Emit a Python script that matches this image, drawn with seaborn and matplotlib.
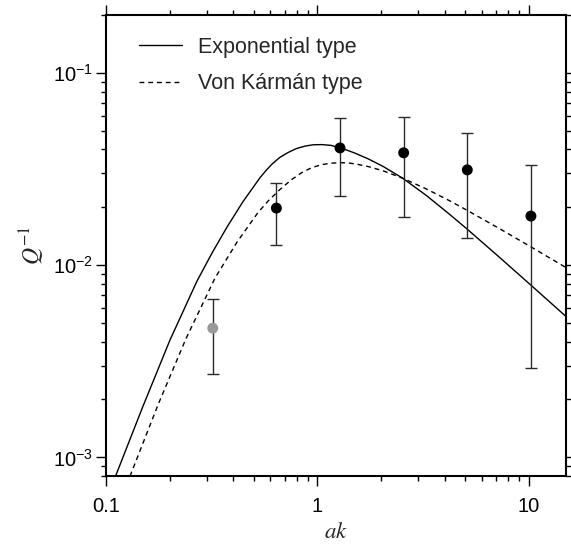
import matplotlib
matplotlib.use("Agg")
import matplotlib.pyplot as plt
import matplotlib.ticker as mticker
import seaborn as sns
import pandas as pd

# ---- data ----
exp_ak = [0.1104, 0.1489, 0.2009, 0.2692, 0.3170, 0.3733, 0.4446, 0.5346, 0.5715,
          0.6095, 0.6637, 0.7244, 0.7943, 0.8730, 0.9550, 1.0495, 1.1588, 1.2764,
          1.3804, 1.5031, 1.7378, 2.0417, 2.5351, 3.281, 4.236, 5.093, 7.244,
          10.233, 14.962]
exp_q = [0.000787, 0.001820, 0.004083, 0.008241, 0.01153, 0.01574, 0.02138, 0.02844,
         0.03105, 0.03350, 0.03631, 0.03846, 0.04036, 0.04159, 0.04227, 0.04236,
         0.04198, 0.04074, 0.03963, 0.03828, 0.03573, 0.03266, 0.02831, 0.02301,
         0.01832, 0.01545, 0.01102, 0.00787, 0.00542]

vk_ak = [0.1299, 0.1762, 0.2389, 0.3277, 0.4163, 0.5233, 0.5888, 0.6647, 0.7534,
         0.8540, 0.9462, 1.0495, 1.1588, 1.2764, 1.3804, 1.5031, 1.7378, 2.0417,
         2.5351, 3.281, 4.236, 5.093, 7.244, 10.233, 14.962]
vk_q = [0.000798, 0.001875, 0.004140, 0.008551, 0.01315, 0.01875, 0.02173, 0.02472,
        0.02780, 0.03055, 0.03221, 0.03334, 0.03388, 0.03412, 0.03404, 0.03365,
        0.03258, 0.03097, 0.02831, 0.02489, 0.02158, 0.01932, 0.01552, 0.01245,
        0.009727]

obs_ak = [0.32, 0.64, 1.28, 2.56, 5.12, 10.24]
obs_q = [0.0047, 0.0198, 0.0407, 0.0384, 0.0313, 0.0180]
obs_hi = [0.0067, 0.0267, 0.058, 0.059, 0.0484, 0.0332]
obs_lo = [0.0027, 0.0127, 0.023, 0.0178, 0.0138, 0.0029]
obs_group = ["gray", "black", "black", "black", "black", "black"]

x_ticks = [0.1, 1, 10]
x_tick_labels = ["0.1", "1", "10"]

# ---- style ----
sns.set_style("ticks")
plt.rcParams["font.family"] = ["Liberation Sans", "DejaVu Sans"]
plt.rcParams["mathtext.fontset"] = "stix"

fig = plt.figure(figsize=(5.71, 5.44), dpi=100)
ax = fig.add_axes([0.1856, 0.125, 0.8056, 0.8474])
ax.set_xscale("log")
ax.set_yscale("log")

df_exp = pd.DataFrame({"ak": exp_ak, "Q": exp_q})
df_vk = pd.DataFrame({"ak": vk_ak, "Q": vk_q})
sns.lineplot(data=df_exp, x="ak", y="Q", ax=ax, color="black", lw=1.0,
             estimator=None, sort=False, label="Exponential type")
sns.lineplot(data=df_vk, x="ak", y="Q", ax=ax, color="black", lw=1.0,
             estimator=None, sort=False, label="Von K\u00e1rm\u00e1n type",
             dashes=False, linestyle=(0, (3.5, 2.8)))

yerr = [[q - lo for q, lo in zip(obs_q, obs_lo)], [hi - q for q, hi in zip(obs_q, obs_hi)]]
ax.errorbar(obs_ak, obs_q, yerr=yerr, fmt="none", ecolor="#2a2a2a", elinewidth=1.0,
            capsize=4, capthick=1.0, zorder=3)
df_obs = pd.DataFrame({"ak": obs_ak, "Q": obs_q, "g": obs_group})
sns.scatterplot(data=df_obs, x="ak", y="Q", hue="g",
                palette={"gray": "#999999", "black": "black"}, s=62,
                edgecolor="none", ax=ax, legend=False, zorder=4)

ax.set_xlim(0.1, 15)
ax.set_ylim(8e-4, 0.2)

ax.xaxis.set_major_locator(mticker.FixedLocator(x_ticks))
ax.xaxis.set_major_formatter(mticker.FixedFormatter(x_tick_labels))
ax.xaxis.set_minor_locator(mticker.LogLocator(base=10, subs=range(2, 10), numticks=20))
ax.xaxis.set_minor_formatter(mticker.NullFormatter())
ax.yaxis.set_major_locator(mticker.LogLocator(base=10, numticks=10))
ax.yaxis.set_minor_locator(mticker.LogLocator(base=10, subs=range(2, 10), numticks=20))
ax.yaxis.set_minor_formatter(mticker.NullFormatter())

ax.tick_params(which="both", direction="out", top=True, right=True,
               labeltop=False, labelright=False, colors="black", width=1.0)
ax.tick_params(which="major", length=7, labelsize=14.5)
ax.tick_params(which="minor", length=3.5)
ax.tick_params(axis="x", which="major", pad=8)
ax.tick_params(axis="y", which="major", pad=2.5)
for sp in ax.spines.values():
    sp.set_linewidth(1.5)
    sp.set_color("black")

ax.set_xlabel(r"$\mathit{ak}$", fontsize=16.5, labelpad=3)
ax.set_ylabel(r"$\mathit{Q^{-1}}$", fontsize=17, labelpad=4)

leg = ax.legend(loc="upper left", frameon=False, fontsize=15.5, handlelength=2.0,
                handletextpad=0.75, labelspacing=0.72, borderaxespad=0.5,
                bbox_to_anchor=(0.03, 0.995))

fig.savefig("out.png", dpi=100)
